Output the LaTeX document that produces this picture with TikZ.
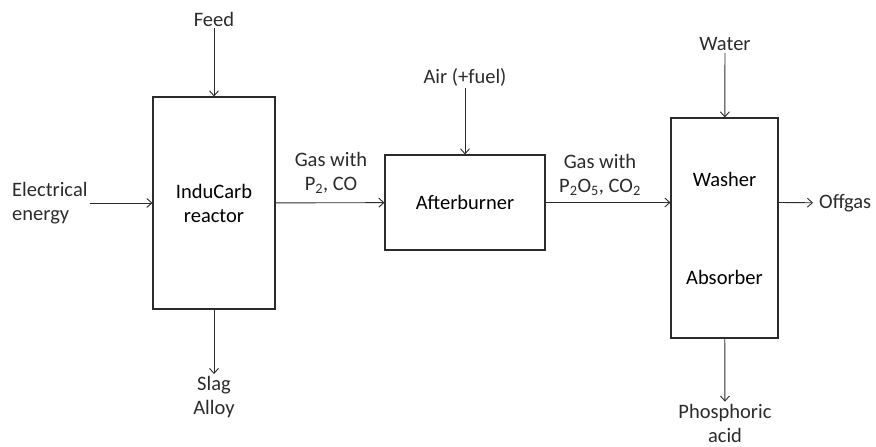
\documentclass[tikz,border=0pt]{standalone}
\usepackage{fontspec}
\setmainfont{Carlito}
\usepackage{tikz}
\usetikzlibrary{positioning,arrows.meta}
\definecolor{ink}{HTML}{2b2b2b}

\begin{document}
\begin{tikzpicture}[x=1pt, y=-1pt,
  unit/.style={draw=ink, line width=1.1pt, minimum width=#1, align=center, inner sep=0pt},
  lbl/.style={align=center, inner sep=2pt, text=ink},
  every node/.style={font=\fontsize{20.5}{24}\selectfont},
  >={Straight Barb[length=5pt, width=9pt, line width=0.9pt]}]
\useasboundingbox (0,0) rectangle (876,447);
% units
\node[unit=122pt, minimum height=212pt] (reactor) at (214,203) {InduCarb\\reactor};
\node[unit=160pt, minimum height=95pt] (burner) at (465,202.5) {Afterburner};
\node[unit=107pt, minimum height=220pt] (washer) at (724.5,228) {Washer\\[74pt]Absorber};
% streams
\node[lbl] (feed) at (214,19) {Feed};
\node[lbl, anchor=west, align=left] (elec) at (10,203) {Electrical\\energy};
\node[lbl] (slag) at (214,397) {Slag\\Alloy};
\node[lbl] (air) at (465,77) {Air (+fuel)};
\node[lbl] (gasA) at (331,173) {Gas with\\P\textsubscript{2}, CO};
\node[lbl] (gasB) at (600,175) {Gas with\\P\textsubscript{2}O\textsubscript{5}, CO\textsubscript{2}};
\node[lbl] (water) at (725,44) {Water};
\node[lbl, anchor=west, inner sep=6pt] (offgas) at (813,203) {Offgas};
\node[lbl] (acid) at (725,423) {Phosphoric\\acid};
\begin{scope}[draw=ink, line width=0.9pt]
\draw[->] (feed) -- (reactor);
\draw[->] (elec) -- (reactor);
\draw[->] (reactor) -- (slag);
\draw[->] (reactor) -- (burner);
\draw[->] (air) -- (burner);
\draw[->] (burner) -- (washer.west |- burner);
\draw[->] (water) -- (washer);
\draw[->] (washer.east |- burner) -- (offgas);
\draw[->] (washer) -- (acid);
\end{scope}
\end{tikzpicture}
\end{document}
